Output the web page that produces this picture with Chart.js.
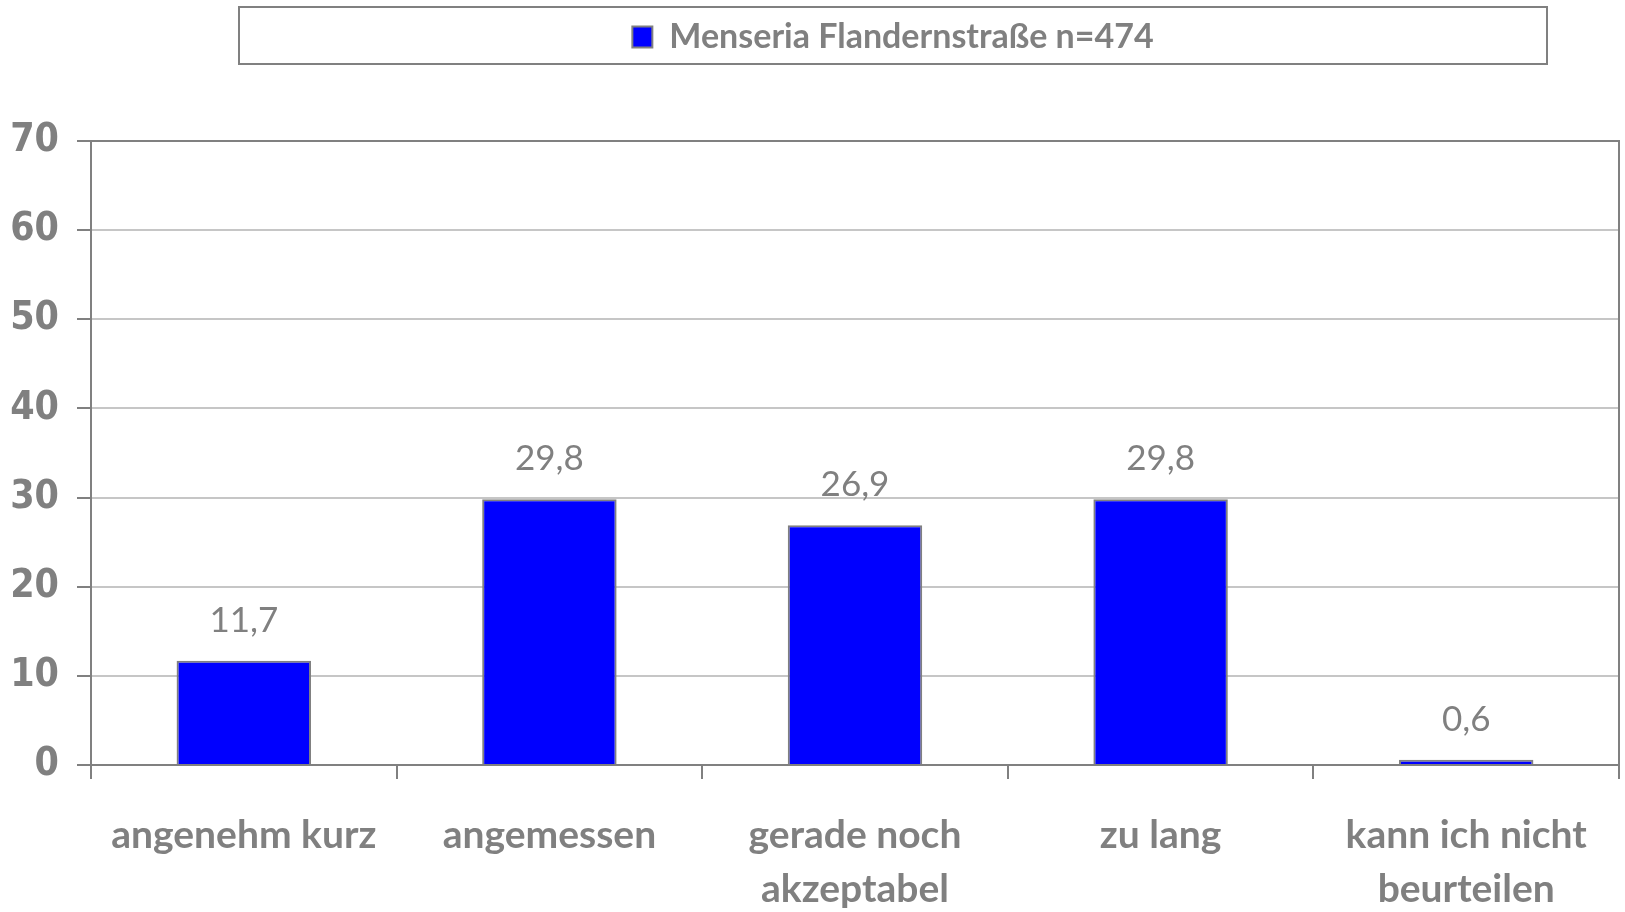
<!DOCTYPE html>
<html lang="de">
<head>
<meta charset="utf-8">
<title>Menseria Flandernstraße – Wartezeit</title>
<script src="https://cdn.jsdelivr.net/npm/chart.js@4.4.1/dist/chart.umd.min.js"></script>
<style>
  html, body { margin: 0; padding: 0; background: #ffffff; }
  #wrap { width: 1625px; height: 912px; }
</style>
</head>
<body>
<div id="wrap"><canvas id="chart" width="1625" height="912"></canvas></div>
<script>
// Categories on the x axis
const categories = ['angenehm kurz', 'angemessen', 'gerade noch akzeptabel', 'zu lang', 'kann ich nicht beurteilen'];
// Tick labels as they are wrapped under the axis
const tickLabels = [['angenehm kurz'], ['angemessen'], ['gerade noch', 'akzeptabel'], ['zu lang'], ['kann ich nicht', 'beurteilen']];
// Series: share of answers in percent
const seriesName = 'Menseria Flandernstraße n=474';
const seriesValues = [11.7, 29.8, 26.9, 29.8, 0.6];
// Value axis range
const yMin = 0;
const yMax = 70;
const yStep = 10;

const GREY = '#808080';
const GRID = '#c6c6c6';
const BLUE = '#0000ff';

const fmt = v => v.toLocaleString('de-DE', { minimumFractionDigits: 1, maximumFractionDigits: 1 });

// Framed legend sitting in its own band above the plot
const legendFrame = {
  id: 'legendFrame',
  beforeLayout(chart) {
    const lg = chart.legend;
    if (lg && !lg._gapPatched) {
      const fit = lg.fit.bind(lg);
      lg.fit = function () { fit(); this.height += 77; };
      lg._gapPatched = true;
    }
  },
  afterLayout(chart) {
    const lg = chart.legend;
    lg.left = 239; lg.right = 1547; lg.width = lg.right - lg.left;
  },
  afterDraw(chart) {
    const lg = chart.legend, ctx = chart.ctx;
    ctx.save();
    ctx.strokeStyle = GREY;
    ctx.lineWidth = 2;
    ctx.strokeRect(lg.left, 7, lg.right - lg.left, 57);
    ctx.restore();
  }
};

// Dark frame on the top and right of the plot area
const plotFrame = {
  id: 'plotFrame',
  afterDatasetsDraw(chart) {
    const { ctx, chartArea: a } = chart;
    ctx.save();
    ctx.strokeStyle = GREY;
    ctx.lineWidth = 2;
    ctx.beginPath();
    ctx.moveTo(a.left, a.top);
    ctx.lineTo(a.right, a.top);
    ctx.lineTo(a.right, a.bottom);
    ctx.stroke();
    ctx.restore();
  }
};

// Value labels above each bar
const valueLabels = {
  id: 'valueLabels',
  afterDatasetsDraw(chart) {
    const ctx = chart.ctx;
    chart.data.datasets.forEach((ds, di) => {
      const meta = chart.getDatasetMeta(di);
      meta.data.forEach((bar, i) => {
        ctx.save();
        ctx.font = '35px Lato';
        ctx.fillStyle = GREY;
        ctx.textAlign = 'center';
        ctx.textBaseline = 'alphabetic';
        ctx.fillText(fmt(ds.data[i]), bar.x, bar.y - 29);
        ctx.restore();
      });
    });
  }
};

new Chart(document.getElementById('chart'), {
  type: 'bar',
  data: {
    labels: categories,
    datasets: [{
      label: seriesName,
      data: seriesValues,
      backgroundColor: BLUE,
      borderColor: GREY,
      borderWidth: 2,
      barPercentage: 0.44,
      categoryPercentage: 1
    }]
  },
  options: {
    responsive: false,
    animation: false,
    devicePixelRatio: 1,
    layout: { padding: { left: 0, right: 6, top: 0, bottom: 0 } },
    plugins: {
      legend: {
        position: 'top',
        labels: {
          color: GREY,
          font: { family: 'Lato', size: 34, weight: 'bold' },
          boxWidth: 20,
          boxHeight: 21,
          padding: 20
        }
      },
      tooltip: { enabled: false }
    },
    scales: {
      x: {
        offset: true,
        afterFit(scale) { scale.height = 147; },
        grid: {
          offset: true,
          drawOnChartArea: false,
          tickLength: 14,
          tickColor: GREY,
          lineWidth: 2
        },
        border: { color: GREY, width: 2 },
        ticks: {
          color: GREY,
          font: { family: 'Lato', size: 39, weight: 'bold', lineHeight: 1.38 },
          padding: 30,
          maxRotation: 0,
          autoSkip: false,
          callback: (v, i) => tickLabels[i]
        }
      },
      y: {
        min: yMin,
        max: yMax,
        afterFit(scale) { scale.width = 91; },
        grid: {
          color: GRID,
          lineWidth: 2,
          tickLength: 14,
          tickColor: GREY
        },
        border: { color: GREY, width: 2 },
        ticks: {
          stepSize: yStep,
          color: GREY,
          padding: 18,
          font: { family: "'DejaVu Sans Condensed', Lato", size: 39, weight: 'bold' }
        }
      }
    }
  },
  plugins: [legendFrame, plotFrame, valueLabels]
});
</script>
</body>
</html>
